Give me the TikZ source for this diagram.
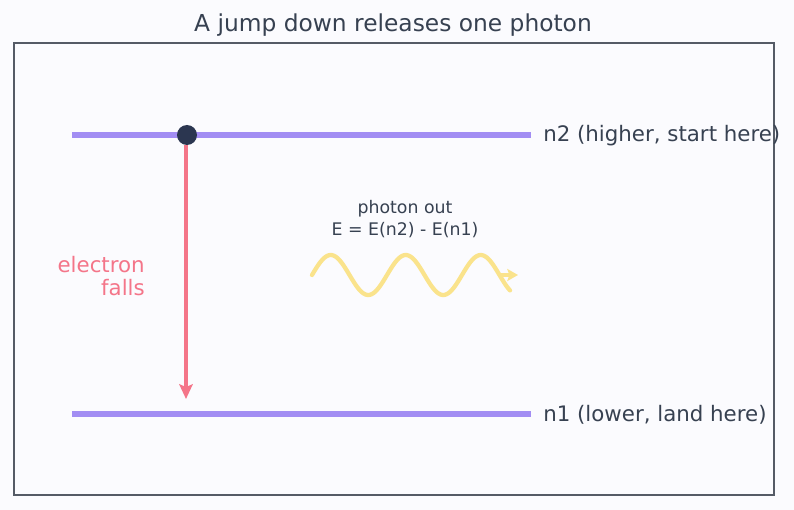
\documentclass[tikz,border=0pt]{standalone}
\usepackage{fontspec}
\setmainfont{DejaVu Sans}
\usetikzlibrary{arrows.meta}
\definecolor{bg}{HTML}{FBFBFE}
\definecolor{frame}{HTML}{555B66}
\definecolor{ink}{HTML}{374151}
\definecolor{level}{HTML}{A28DF3}
\definecolor{dotc}{HTML}{2B3650}
\definecolor{fall}{HTML}{F47589}
\definecolor{wave}{HTML}{FAE38C}
\tikzset{
  levelline/.style={draw=level, line width=4.2pt},
  lbl/.style={text=ink, font=\fontsize{16}{19}\selectfont, anchor=west, inner sep=0pt},
  small/.style={text=ink, font=\fontsize{13}{15}\selectfont, inner sep=0pt},
}
\begin{document}
\begin{tikzpicture}[x=0.75pt, y=-0.75pt]
\fill[bg] (0,0) rectangle (794,510);
\useasboundingbox (0,0) rectangle (794,510);
\node[text=ink, font=\fontsize{17.5}{20}\selectfont, inner sep=0pt] (title) at (393,25) {A jump down releases one photon};
\draw[frame, line width=1.1pt] (14,43) rectangle (774,495);
% levels
\coordinate (n2a) at (72,135); \coordinate (n2b) at (531,135);
\coordinate (n1a) at (72,414); \coordinate (n1b) at (531,414);
\draw[levelline] (n2a) -- (n2b);
\draw[levelline] (n1a) -- (n1b);
\node[lbl] (n2lbl) at (543,136) {n2 (higher, start here)};
\node[lbl] (n1lbl) at (543,415) {n1 (lower, land here)};
% electron
\coordinate (fallend) at (186,399);
\draw[fall, line width=3.2pt, -{Stealth[length=11pt, width=10pt, inset=2pt]}] (186,145) -- (fallend);
\node[circle, fill=dotc, minimum size=15pt, inner sep=0pt] (electron) at (187,135) {};
\node[text=fall, font=\fontsize{16}{17}\selectfont, align=right, anchor=east, inner sep=0pt] (falls) at (145,276) {electron\\falls};
% photon
\node[small] (ph1) at (405,209) {photon out};
\node[small] (ph2) at (405,230) {E = E(n2) - E(n1)};
\draw[wave, line width=3.2pt, line cap=round] plot[domain=312:510, samples=120, smooth] (\x, {275 - 20*sin((\x-312)/75*360)});
\coordinate (pa) at (500,275); \coordinate (pb) at (518,275);
\draw[wave, line width=3pt, -{Stealth[length=8pt, width=9pt, inset=1.5pt]}] (pa) -- (pb);
\end{tikzpicture}
\end{document}
